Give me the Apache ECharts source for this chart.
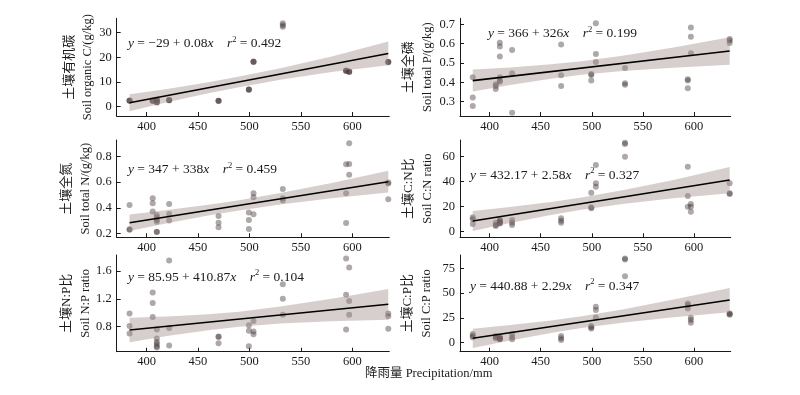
<!DOCTYPE html>
<html><head><meta charset="utf-8">
<script src="https://cdn.jsdelivr.net/npm/echarts@6/dist/echarts.min.js"></script>
<style>html,body{margin:0;padding:0;background:#fff}#c{width:800px;height:395px}</style>
</head><body><div id="c"></div>
<script>
// ---- data ----
const precipitation = [383.5,383.5,383.5, 406,406,406, 410,410,410,410,410,410, 422,422,422, 470,470,470, 499.5,499.5,499.5, 504,504,504, 532.5,532.5,532.5, 594,594,594, 597,597,597, 635,635,635];
const organicC = [2.4,2.4,2.5, 2.3,2.5,2.4, 2.9,2.7,2.6,1.8,1.7,1.9, 2.6,2.6,2.7, 2.4,2.4,2.3, 7.0,7.0,6.9, 18.2,18.3,18.1, 33.8,33.0,32.4, 14.6,14.7,14.5, 14.2,14.3,14.1, 18.1,18.2,18.0];
const totalP = [0.426,0.322,0.278, 0.390,0.381,0.366, 0.605,0.585,0.533,0.426,0.410,0.403, 0.567,0.447,0.243, 0.595,0.436,0.381, 0.443,0.438,0.410, 0.705,0.547,0.505, 0.474,0.395,0.388, 0.416,0.409,0.369, 0.683,0.636,0.550, 0.624,0.616,0.603];
const totalN = [0.422,0.231,0.229, 0.474,0.435,0.370, 0.343,0.325,0.304,0.290,0.213,0.211, 0.430,0.351,0.300, 0.335,0.283,0.247, 0.362,0.304,0.234, 0.513,0.482,0.349, 0.547,0.474,0.456, 0.740,0.513,0.281, 0.904,0.743,0.659, 0.597,0.590,0.466];
const ratioCN = [11.5,9.9,6.1, 7.2,5.3,4.5, 9.5,8.2,7.6,7.0,6.5,8.8, 9.3,7.2,5.3, 10.7,8.8,7.2, 31.2,19.5,18.7, 53.3,38.7,36.0, 71.2,70.1,60.0, 52.0,28.5,20.0, 22.1,20.0,16.0, 38.7,30.7,30.1];
const ratioNP = [0.99,0.81,0.70, 1.29,1.14,0.94, 0.76,0.63,0.58,0.55,0.52,0.50, 1.75,0.78,0.53, 0.66,0.65,0.56, 0.82,0.74,0.52, 0.88,0.73,0.69, 1.41,1.20,0.97, 1.78,1.26,0.76, 1.65,1.17,0.97, 0.99,0.95,0.77];
const ratioCP = [8.7,6.7,5.4, 6.7,5.4,4.4, 5.4,3.4,4.4,4.0,3.6,5.0, 8.7,5.4,3.4, 6.7,4.4,2.7, 16.8,15.4,14.4, 36.2,32.9,25.5, 84.9,83.9,67.1, 39.6,37.9,34.6, 25.2,22.8,20.1, 29.5,28.9,28.2];

const fitX = [383.5, 635];
const fitC = [1.6, 21.6];
const fitP = [0.409, 0.562];
const fitN = [0.283, 0.604];
const fitCN = [8.5, 41.3];
const fitNP = [0.752, 1.121];
const fitCP = [4.4, 43.0];

const bandX = [383.5, 420, 460, 490, 530, 580, 635];
const bandLowC = [-1.8, 1.8, 5.5, 7.9, 10.9, 14.1, 16.8];
const bandHighC = [5.0, 7.2, 9.9, 12.2, 15.6, 20.4, 26.4];
const bandLowP = [0.352, 0.386, 0.419, 0.439, 0.459, 0.476, 0.491];
const bandHighP = [0.466, 0.477, 0.493, 0.509, 0.537, 0.580, 0.633];
const bandLowN = [0.218, 0.278, 0.339, 0.379, 0.425, 0.474, 0.519];
const bandHighN = [0.348, 0.382, 0.423, 0.459, 0.515, 0.594, 0.689];
const bandLowCN = [0.5, 6.9, 13.3, 17.5, 22.1, 26.8, 30.8];
const bandHighCN = [16.5, 19.7, 23.7, 27.3, 33.1, 41.4, 51.8];
const bandLowNP = [0.577, 0.666, 0.749, 0.800, 0.846, 0.879, 0.901];
const bandHighNP = [0.927, 0.946, 0.979, 1.016, 1.088, 1.201, 1.341];
const bandLowCP = [-5.3, 2.2, 9.7, 14.75, 20.2, 25.7, 30.8];
const bandHighCP = [14.1, 17.8, 22.5, 26.75, 33.6, 43.5, 55.2];

const xTicks = [400, 450, 500, 550, 600];
const yTicksC = [0, 10, 20, 30];
const yTicksP = [0.3, 0.4, 0.5, 0.6, 0.7];
const yTicksN = [0.2, 0.4, 0.6, 0.8];
const yTicksCN = [0, 20, 40, 60];
const yTicksNP = [0.8, 1.2, 1.6];
const yTicksCP = [0, 25, 50, 75];

const namesCn = ['土壤有机碳', '土壤全磷', '土壤全氮', '土壤C:N比', '土壤N:P比', '土壤C:P比'];
const namesEn = ['Soil organic C/(g/kg)', 'Soil total P/(g/kg)', 'Soil total N/(g/kg)', 'Soil C:N ratio', 'Soil N:P ratio', 'Soil C:P ratio'];
const eqText = [
  ['y', ' = −29 + 0.08', 'x', '0.492'],
  ['y', ' = 366 + 326', 'x', '0.199'],
  ['y', ' = 347 + 338', 'x', '0.459'],
  ['y', ' = 432.17 + 2.58', 'x', '0.327'],
  ['y', ' = 85.95 + 410.87', 'x', '0.104'],
  ['y', ' = 440.88 + 2.29', 'x', '0.347']
];
const xTitle = '降雨量 Precipitation/mm';

// ---- layout / styling ----
const FONT = '"Liberation Serif","Noto Sans CJK SC",serif';
const panels = [
  {y: organicC, fit: fitC, lo: bandLowC, hi: bandHighC, ticks: yTicksC, min: -3.77, max: 35.84, left: 116.7, width: 272.6, top: 18.3, height: 97.7, gap: 19, dec: 0, eq: [128, 43.5]},
  {y: totalP, fit: fitP, lo: bandLowP, hi: bandHighP, ticks: yTicksP, min: 0.226, max: 0.731, left: 460, width: 270.7, top: 18.3, height: 97.7, gap: 22.5, dec: 1, eq: [488, 33.5]},
  {y: totalN, fit: fitN, lo: bandLowN, hi: bandHighN, ticks: yTicksN, min: 0.169, max: 0.930, left: 116.7, width: 272.6, top: 140, height: 97.3, gap: 19, dec: 1, eq: [128, 169.5]},
  {y: ratioCN, fit: fitCN, lo: bandLowCN, hi: bandHighCN, ticks: yTicksCN, min: -4.5, max: 73.3, left: 460, width: 270.7, top: 140, height: 97.3, gap: 22.5, dec: 0, eq: [470, 175]},
  {y: ratioNP, fit: fitNP, lo: bandLowNP, hi: bandHighNP, ticks: yTicksNP, min: 0.44, max: 1.83, left: 116.7, width: 272.6, top: 255, height: 96.7, gap: 20, dec: 1, eq: [128, 277]},
  {y: ratioCP, fit: fitCP, lo: bandLowCP, hi: bandHighCP, ticks: yTicksCP, min: -9.1, max: 88.5, left: 460, width: 270.7, top: 255, height: 96.7, gap: 24, dec: 0, eq: [470, 286]}
];

const grid = [], xAxis = [], yAxis = [], series = [], graphic = [];
panels.forEach((p, i) => {
  grid.push({left: p.left, top: p.top, width: p.width, height: p.height, containLabel: false});
  xAxis.push({
    type: 'value', gridIndex: i, min: 371, max: 636,
    axisLine: {show: true, onZero: false, lineStyle: {color: '#1a1a1a', width: 1}},
    axisTick: {show: true, inside: true, length: 4, customValues: xTicks, lineStyle: {color: '#1a1a1a'}},
    axisLabel: {customValues: xTicks, margin: 4, color: '#1a1a1a', fontFamily: FONT, fontSize: 12.5},
    splitLine: {show: false}
  });
  yAxis.push({
    type: 'value', gridIndex: i, min: p.min, max: p.max,
    axisLine: {show: true, onZero: false, lineStyle: {color: '#1a1a1a', width: 1}},
    axisTick: {show: true, inside: true, length: 4, customValues: p.ticks, lineStyle: {color: '#1a1a1a'}},
    axisLabel: {customValues: p.ticks, margin: 5, color: '#1a1a1a', fontFamily: FONT, fontSize: 12.5,
      formatter: v => p.dec ? v.toFixed(1) : String(Math.round(v))},
    splitLine: {show: false},
    name: '{cn|' + namesCn[i] + '}\n{en|' + namesEn[i] + '}',
    nameLocation: 'middle', nameRotate: 90, nameGap: p.gap,
    nameTextStyle: {color: '#1a1a1a', fontFamily: FONT, rich: {
      cn: {fontFamily: FONT, fontSize: 13, lineHeight: 19, color: '#1a1a1a'},
      en: {fontFamily: FONT, fontSize: 12.5, lineHeight: 19, color: '#1a1a1a'}
    }}
  });
  series.push({
    type: 'scatter', xAxisIndex: i, yAxisIndex: i, z: 2,
    symbolSize: 6,
    itemStyle: {color: 'rgba(70,58,58,0.55)', borderWidth: 0},
    data: precipitation.map((x, k) => [x, p.y[k]]),
    silent: true
  });
  series.push({
    type: 'custom', xAxisIndex: i, yAxisIndex: i, z: 3, silent: true,
    data: [[bandX[0], p.lo[0]]],
    renderItem: (params, api) => {
      const pts = [];
      for (let k = 0; k < bandX.length; k++) pts.push(api.coord([bandX[k], p.hi[k]]));
      for (let k = bandX.length - 1; k >= 0; k--) pts.push(api.coord([bandX[k], p.lo[k]]));
      return {type: 'polygon', shape: {points: pts}, style: {fill: 'rgba(160,140,138,0.42)'}};
    }
  });
  series.push({
    type: 'line', xAxisIndex: i, yAxisIndex: i, z: 4, silent: true,
    symbol: 'none', lineStyle: {color: '#000', width: 1.6},
    data: fitX.map((x, k) => [x, p.fit[k]])
  });
  const e = eqText[i];
  graphic.push({
    type: 'text', left: p.eq[0], top: p.eq[1] - 8, silent: true,
    style: {
      text: '{it|' + e[0] + '}{n|' + e[1] + '}{it|' + e[2] + '}{n|    }{it|r}{sup|2}{n| = ' + e[3] + '}',
      rich: {
        it: {fontFamily: FONT, fontStyle: 'italic', fontSize: 13.5, fill: '#1a1a1a', lineHeight: 16},
        n: {fontFamily: FONT, fontSize: 13.5, fill: '#1a1a1a', lineHeight: 16},
        sup: {fontFamily: FONT, fontSize: 8.5, fill: '#1a1a1a', verticalAlign: 'top', lineHeight: 16}
      }
    }
  });
});
graphic.push({
  type: 'text', left: 365, top: 367, silent: true,
  style: {text: xTitle, font: '12.5px ' + FONT, fill: '#1a1a1a'}
});

const chart = echarts.init(document.getElementById('c'), null, {renderer: 'canvas'});
chart.setOption({animation: false, backgroundColor: '#fff', grid, xAxis, yAxis, series, graphic});
</script>
</body></html>
